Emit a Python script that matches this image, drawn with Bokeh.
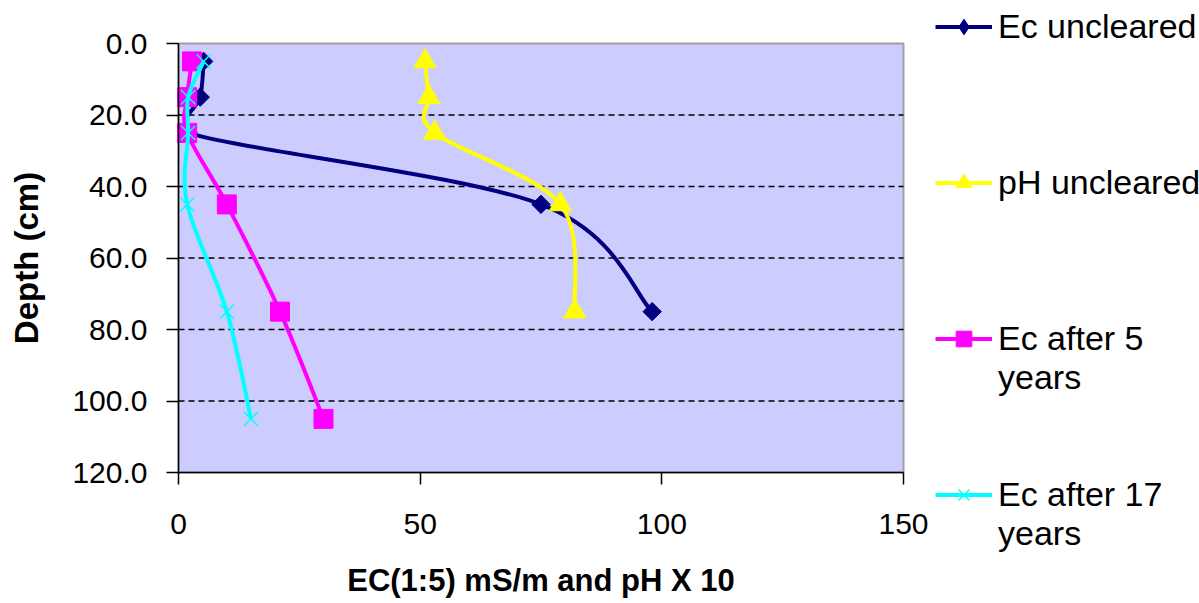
import numpy as np
from bokeh.plotting import figure
from bokeh.models import Range1d, FixedTicker, PrintfTickFormatter, Legend, LegendItem
from bokeh.embed import file_html
from bokeh.resources import INLINE

# ---- data ----
depth_uncleared = [5, 15, 25, 45, 75]
ec_uncleared = [5.2, 4.5, 2.0, 75.0, 98.0]
ph_uncleared = [51.0, 51.8, 53.0, 79.0, 82.0]
depth_cleared = [5, 15, 25, 45, 75, 105]
ec_after_5 = [2.8, 1.8, 1.8, 10.0, 21.0, 30.0]
ec_after_17 = [5.2, 2.0, 2.0, 1.8, 10.0, 15.0]

series_labels = ["Ec uncleared", "pH uncleared", "Ec after 5\nyears", "Ec after 17\nyears"]
series_colors = ["#000080", "#FFFF00", "#FF00FF", "#00FFFF"]

x_ticks = [0, 50, 100, 150]
y_ticks = [0, 20, 40, 60, 80, 100, 120]
grid_ticks = [20, 40, 60, 80, 100]

FONT = "Liberation Sans"

# ---- layout: the whole canvas is the frame; the plot area sits at these pixels ----
W, H = 1199, 603
AREA_L, AREA_R, AREA_T, AREA_B = 178, 903, 43, 472
x_lo, x_hi = x_ticks[0], x_ticks[-1]
y_lo, y_hi = y_ticks[0], y_ticks[-1]
sx = (AREA_R - AREA_L) / (x_hi - x_lo)
sy = (AREA_B - AREA_T) / (y_hi - y_lo)
x_range = Range1d(x_lo - AREA_L / sx, x_hi + (W - AREA_R) / sx)
y_range = Range1d(y_hi + (H - AREA_B) / sy, y_lo - AREA_T / sy)   # depth increases downward


def smooth_segments(xs, ys, xmin, xmax):
    """Bezier control points of a smoothed line through the data points
    (control points kept inside the plot area so the curve never leaves it)."""
    xs = np.asarray(xs, float)
    ys = np.asarray(ys, float)
    n = len(xs)
    px = np.concatenate([[xs[0]], xs, [xs[-1]]])
    py = np.concatenate([[ys[0]], ys, [ys[-1]]])
    cx0 = px[1:n] + (px[2:n + 1] - px[0:n - 1]) / 6.0
    cy0 = py[1:n] + (py[2:n + 1] - py[0:n - 1]) / 6.0
    cx1 = px[2:n + 1] - (px[3:n + 2] - px[1:n]) / 6.0
    cy1 = py[2:n + 1] - (py[3:n + 2] - py[1:n]) / 6.0
    cx0 = np.clip(cx0, xmin, xmax)
    cx1 = np.clip(cx1, xmin, xmax)
    return dict(x0=xs[:-1], y0=ys[:-1], x1=xs[1:], y1=ys[1:],
                cx0=cx0, cy0=cy0, cx1=cx1, cy1=cy1)


marker_specs = [
    dict(marker="square", angle=np.pi / 4, size=13, legend_marker="diamond"),
    dict(marker="triangle", angle=0.0, size=22, legend_marker=None),
    dict(marker="square", angle=0.0, size=19, legend_marker=None),
    dict(marker="x", angle=0.0, size=20, legend_marker=None),
]

p = figure(width=W, height=H, x_range=x_range, y_range=y_range,
           output_backend="svg", toolbar_location=None,
           min_border_left=0, min_border_right=0, min_border_top=0, min_border_bottom=0)
p.background_fill_color = "white"
p.border_fill_color = "white"
p.outline_line_color = None
p.grid.visible = False

# plot area background + border
p.quad(left=[x_lo], right=[x_hi], top=[y_lo], bottom=[y_hi],
       fill_color="#CCCCFF", line_color="#A0A0A0", line_width=2)
# dashed horizontal gridlines
p.segment(x0=[x_lo] * len(grid_ticks), x1=[x_hi] * len(grid_ticks), y0=grid_ticks, y1=grid_ticks,
          line_color="black", line_width=1.5, line_dash="6 4")

# axes pinned to the plot-area edges
p.xaxis.fixed_location = y_hi
p.yaxis.fixed_location = x_lo
p.xaxis.bounds = (x_lo, x_hi)
p.yaxis.bounds = (y_lo, y_hi)
p.xaxis.ticker = FixedTicker(ticks=x_ticks)
p.yaxis.ticker = FixedTicker(ticks=y_ticks)
p.yaxis.formatter = PrintfTickFormatter(format="%.1f")
for ax in (p.xaxis, p.yaxis):
    ax.axis_line_color = "black"
    ax.axis_line_width = 1.5
    ax.major_tick_line_color = "black"
    ax.major_tick_line_width = 1.5
    ax.major_tick_out = 12
    ax.major_tick_in = 0
    ax.minor_tick_line_color = None
    ax.major_label_text_font = FONT
    ax.major_label_text_font_size = "30px"
    ax.major_label_text_color = "black"
    ax.axis_label_text_font = FONT
    ax.axis_label_text_font_style = "bold"
    ax.axis_label_text_color = "black"
p.xaxis.axis_label = "EC(1:5) mS/m and pH X 10"
p.yaxis.axis_label = "Depth (cm)"
p.xaxis.axis_label_text_font_size = "31px"
p.yaxis.axis_label_text_font_size = "33px"
p.xaxis.major_label_standoff = 29
p.xaxis.axis_label_standoff = 26
p.yaxis.major_label_standoff = 19
p.yaxis.axis_label_standoff = 24

series = [
    (ec_uncleared, depth_uncleared),
    (ph_uncleared, depth_uncleared),
    (ec_after_5, depth_cleared),
    (ec_after_17, depth_cleared),
]

legend_renderers = []
for (xs, ys), color, spec in zip(series, series_colors, marker_specs):
    br = p.bezier(line_color=color, line_width=4, **smooth_segments(xs, ys, x_lo, x_hi))
    legend_marker_r = None
    if spec["legend_marker"] is not None:
        # same points in the legend's marker shape, drawn beneath the plot markers
        legend_marker_r = p.scatter(xs, ys, marker=spec["legend_marker"], size=16,
                                    fill_color=color, line_color=color)
    if spec["marker"] == "x":
        sr = p.scatter(xs, ys, marker="x", size=spec["size"], line_color=color, line_width=1.5)
    else:
        sr = p.scatter(xs, ys, marker=spec["marker"], angle=spec["angle"], size=spec["size"],
                       fill_color=color, line_color=color)
    legend_renderers.append([br, legend_marker_r if legend_marker_r is not None else sr])

# ---- legend: one column with a uniform row pitch; blank rows space the entries ----
ROW = 39
gaps_before = [0, 3, 3, 2]
blank = p.line(x=[x_lo], y=[y_lo], line_alpha=0)
items = []
for label, rends, gap in zip(series_labels, legend_renderers, gaps_before):
    for _ in range(gap):
        items.append(LegendItem(label=" ", renderers=[blank]))
    lines = label.split("\n")
    items.append(LegendItem(label=lines[0], renderers=rends))
    for part in lines[1:]:
        items.append(LegendItem(label=part, renderers=[blank]))

first_center = 26
legend_top = first_center - ROW / 2
legend_h = ROW * len(items)
legend = Legend(items=items, location=(935, H - legend_top - legend_h),
                glyph_width=57, glyph_height=ROW, label_height=ROW,
                label_standoff=6, padding=0, margin=0, spacing=0,
                border_line_color=None, background_fill_alpha=0,
                label_text_font=FONT, label_text_font_size="34px",
                label_text_color="black")
p.add_layout(legend, "center")

open("out.html", "w").write(file_html(p, INLINE))
